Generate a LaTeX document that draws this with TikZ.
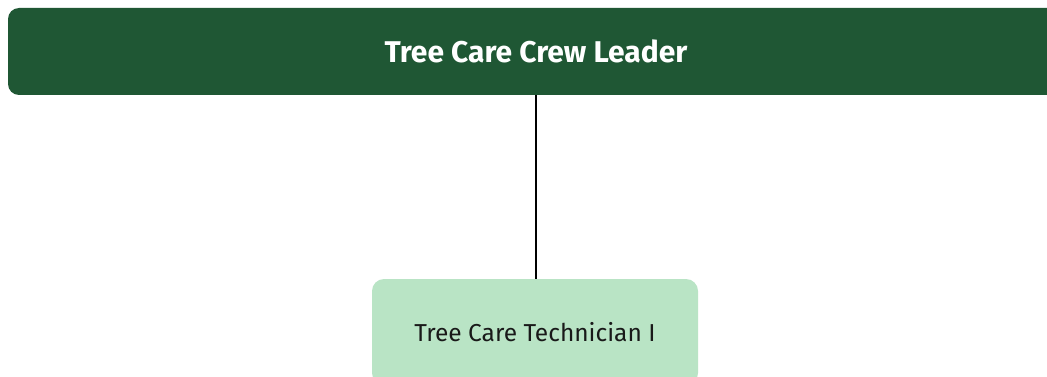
\documentclass[tikz,border=0pt]{standalone}
\usepackage{fontspec}
\setmainfont{Fira Sans}
\definecolor{leaderfill}{HTML}{1F5734}
\definecolor{techfill}{HTML}{B9E4C5}
\begin{document}
\begin{tikzpicture}[x=1pt,y=-1pt,
  leaderbox/.style={fill=leaderfill, rounded corners=11pt, minimum width=1056pt,
    minimum height=87pt, inner sep=0pt, text=white, font=\bfseries\fontsize{30}{34}\selectfont},
  techbox/.style={fill=techfill, rounded corners=12pt, minimum width=326pt,
    minimum height=106pt, inner sep=0pt, text=black!90, font=\fontsize{24.5}{28}\selectfont},
  link/.style={draw=black, line width=1.8pt}]
  \useasboundingbox (0,0) rectangle (1047,377);
  \clip (0,0) rectangle (1047,377);
  \fill[white] (0,0) rectangle (1047,377);
  % top-level role spanning the page
  \node[leaderbox] (leader) at (536,51.5) {Tree Care Crew Leader};
  % reporting role
  \node[techbox] (tech) at (535,332) {Tree Care Technician I};
  \draw[link] (leader.south -| 536,0) -- (tech.north -| 536,0);
\end{tikzpicture}
\end{document}
